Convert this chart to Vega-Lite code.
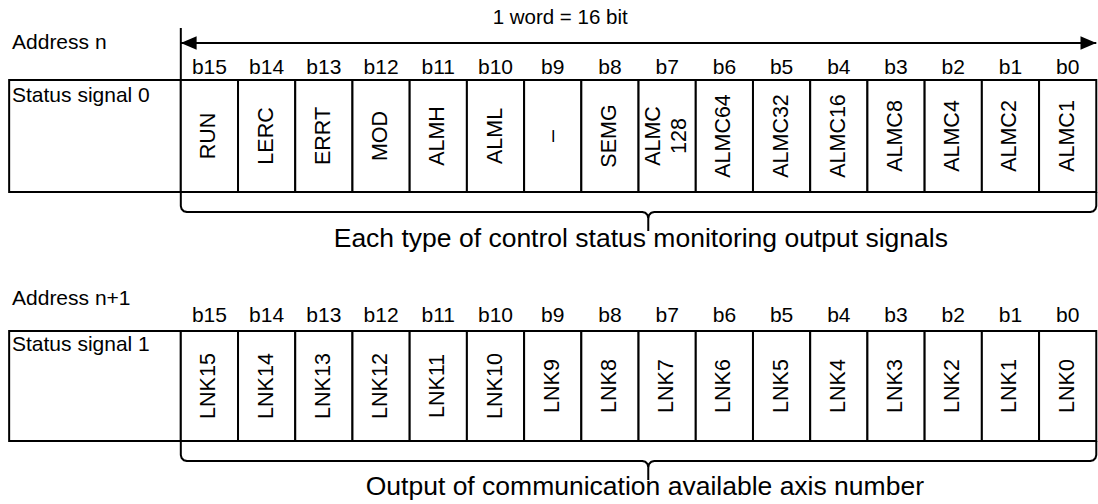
{
  "$schema": "https://vega.github.io/schema/vega-lite/v6.json",
  "width": 1098,
  "height": 504,
  "autosize": {"type": "none"},
  "padding": 0,
  "background": "white",
  "config": {"view": {"stroke": null}, "text": {"font": "Liberation Sans", "color": "black"}},
  "datasets": {
    "cells": [
      {"x1": -3, "x2": 0, "y1": 80, "y2": 192}, {"x1": 0, "x2": 1, "y1": 80, "y2": 192}, {"x1": 1, "x2": 2, "y1": 80, "y2": 192}, {"x1": 2, "x2": 3, "y1": 80, "y2": 192}, {"x1": 3, "x2": 4, "y1": 80, "y2": 192}, {"x1": 4, "x2": 5, "y1": 80, "y2": 192}, {"x1": 5, "x2": 6, "y1": 80, "y2": 192}, {"x1": 6, "x2": 7, "y1": 80, "y2": 192}, {"x1": 7, "x2": 8, "y1": 80, "y2": 192}, {"x1": 8, "x2": 9, "y1": 80, "y2": 192}, {"x1": 9, "x2": 10, "y1": 80, "y2": 192}, {"x1": 10, "x2": 11, "y1": 80, "y2": 192}, {"x1": 11, "x2": 12, "y1": 80, "y2": 192}, {"x1": 12, "x2": 13, "y1": 80, "y2": 192}, {"x1": 13, "x2": 14, "y1": 80, "y2": 192}, {"x1": 14, "x2": 15, "y1": 80, "y2": 192}, {"x1": 15, "x2": 16, "y1": 80, "y2": 192},
      {"x1": -3, "x2": 0, "y1": 331, "y2": 441}, {"x1": 0, "x2": 1, "y1": 331, "y2": 441}, {"x1": 1, "x2": 2, "y1": 331, "y2": 441}, {"x1": 2, "x2": 3, "y1": 331, "y2": 441}, {"x1": 3, "x2": 4, "y1": 331, "y2": 441}, {"x1": 4, "x2": 5, "y1": 331, "y2": 441}, {"x1": 5, "x2": 6, "y1": 331, "y2": 441}, {"x1": 6, "x2": 7, "y1": 331, "y2": 441}, {"x1": 7, "x2": 8, "y1": 331, "y2": 441}, {"x1": 8, "x2": 9, "y1": 331, "y2": 441}, {"x1": 9, "x2": 10, "y1": 331, "y2": 441}, {"x1": 10, "x2": 11, "y1": 331, "y2": 441}, {"x1": 11, "x2": 12, "y1": 331, "y2": 441}, {"x1": 12, "x2": 13, "y1": 331, "y2": 441}, {"x1": 13, "x2": 14, "y1": 331, "y2": 441}, {"x1": 14, "x2": 15, "y1": 331, "y2": 441}, {"x1": 15, "x2": 16, "y1": 331, "y2": 441}
    ],
    "rules": [
      {"x1": 0, "x2": 16, "y1": 43, "y2": 43},
      {"x1": 0, "x2": 0, "y1": 28, "y2": 80}
    ],
    "brace": [
      {"piece": "1L", "o": 1, "x": 0, "y": 192}, {"piece": "1L", "o": 2, "x": 0, "y": 206}, {"piece": "1L", "o": 3, "x": 0.014, "y": 209}, {"piece": "1L", "o": 4, "x": 0.0525, "y": 211.2}, {"piece": "1L", "o": 5, "x": 0.105, "y": 212}, {"piece": "1L", "o": 6, "x": 8.065, "y": 212}, {"piece": "1L", "o": 7, "x": 8.1175, "y": 212.8}, {"piece": "1L", "o": 8, "x": 8.156, "y": 215}, {"piece": "1L", "o": 9, "x": 8.17, "y": 218}, {"piece": "1L", "o": 10, "x": 8.17, "y": 231},
      {"piece": "1R", "o": 1, "x": 8.17, "y": 218}, {"piece": "1R", "o": 2, "x": 8.184, "y": 215}, {"piece": "1R", "o": 3, "x": 8.2225, "y": 212.8}, {"piece": "1R", "o": 4, "x": 8.275, "y": 212}, {"piece": "1R", "o": 5, "x": 15.895, "y": 212}, {"piece": "1R", "o": 6, "x": 15.9475, "y": 211.2}, {"piece": "1R", "o": 7, "x": 15.986, "y": 209}, {"piece": "1R", "o": 8, "x": 16, "y": 206}, {"piece": "1R", "o": 9, "x": 16, "y": 192},
      {"piece": "2L", "o": 1, "x": 0, "y": 441}, {"piece": "2L", "o": 2, "x": 0, "y": 455}, {"piece": "2L", "o": 3, "x": 0.014, "y": 458}, {"piece": "2L", "o": 4, "x": 0.0525, "y": 460.2}, {"piece": "2L", "o": 5, "x": 0.105, "y": 461}, {"piece": "2L", "o": 6, "x": 8.065, "y": 461}, {"piece": "2L", "o": 7, "x": 8.1175, "y": 461.8}, {"piece": "2L", "o": 8, "x": 8.156, "y": 464}, {"piece": "2L", "o": 9, "x": 8.17, "y": 467}, {"piece": "2L", "o": 10, "x": 8.17, "y": 480},
      {"piece": "2R", "o": 1, "x": 8.17, "y": 467}, {"piece": "2R", "o": 2, "x": 8.184, "y": 464}, {"piece": "2R", "o": 3, "x": 8.2225, "y": 461.8}, {"piece": "2R", "o": 4, "x": 8.275, "y": 461}, {"piece": "2R", "o": 5, "x": 15.895, "y": 461}, {"piece": "2R", "o": 6, "x": 15.9475, "y": 460.2}, {"piece": "2R", "o": 7, "x": 15.986, "y": 458}, {"piece": "2R", "o": 8, "x": 16, "y": 455}, {"piece": "2R", "o": 9, "x": 16, "y": 441}
    ],
    "bits": [
      {"t": "b15", "x": 0.5, "y": 68}, {"t": "b14", "x": 1.5, "y": 68}, {"t": "b13", "x": 2.5, "y": 68}, {"t": "b12", "x": 3.5, "y": 68}, {"t": "b11", "x": 4.5, "y": 68}, {"t": "b10", "x": 5.5, "y": 68}, {"t": "b9", "x": 6.5, "y": 68}, {"t": "b8", "x": 7.5, "y": 68}, {"t": "b7", "x": 8.5, "y": 68}, {"t": "b6", "x": 9.5, "y": 68}, {"t": "b5", "x": 10.5, "y": 68}, {"t": "b4", "x": 11.5, "y": 68}, {"t": "b3", "x": 12.5, "y": 68}, {"t": "b2", "x": 13.5, "y": 68}, {"t": "b1", "x": 14.5, "y": 68}, {"t": "b0", "x": 15.5, "y": 68},
      {"t": "b15", "x": 0.5, "y": 316}, {"t": "b14", "x": 1.5, "y": 316}, {"t": "b13", "x": 2.5, "y": 316}, {"t": "b12", "x": 3.5, "y": 316}, {"t": "b11", "x": 4.5, "y": 316}, {"t": "b10", "x": 5.5, "y": 316}, {"t": "b9", "x": 6.5, "y": 316}, {"t": "b8", "x": 7.5, "y": 316}, {"t": "b7", "x": 8.5, "y": 316}, {"t": "b6", "x": 9.5, "y": 316}, {"t": "b5", "x": 10.5, "y": 316}, {"t": "b4", "x": 11.5, "y": 316}, {"t": "b3", "x": 12.5, "y": 316}, {"t": "b2", "x": 13.5, "y": 316}, {"t": "b1", "x": 14.5, "y": 316}, {"t": "b0", "x": 15.5, "y": 316}
    ],
    "signals": [
      {"t": "RUN", "x": 0.5, "y": 136}, {"t": "LERC", "x": 1.5, "y": 136}, {"t": "ERRT", "x": 2.5, "y": 136}, {"t": "MOD", "x": 3.5, "y": 136}, {"t": "ALMH", "x": 4.5, "y": 136}, {"t": "ALML", "x": 5.5, "y": 136}, {"t": "–", "x": 6.5, "y": 136}, {"t": "SEMG", "x": 7.5, "y": 136}, {"t": "ALMC\n128", "x": 8.27, "y": 136}, {"t": "ALMC64", "x": 9.5, "y": 136}, {"t": "ALMC32", "x": 10.5, "y": 136}, {"t": "ALMC16", "x": 11.5, "y": 136}, {"t": "ALMC8", "x": 12.5, "y": 136}, {"t": "ALMC4", "x": 13.5, "y": 136}, {"t": "ALMC2", "x": 14.5, "y": 136}, {"t": "ALMC1", "x": 15.5, "y": 136},
      {"t": "LNK15", "x": 0.5, "y": 386}, {"t": "LNK14", "x": 1.5, "y": 386}, {"t": "LNK13", "x": 2.5, "y": 386}, {"t": "LNK12", "x": 3.5, "y": 386}, {"t": "LNK11", "x": 4.5, "y": 386}, {"t": "LNK10", "x": 5.5, "y": 386}, {"t": "LNK9", "x": 6.5, "y": 386}, {"t": "LNK8", "x": 7.5, "y": 386}, {"t": "LNK7", "x": 8.5, "y": 386}, {"t": "LNK6", "x": 9.5, "y": 386}, {"t": "LNK5", "x": 10.5, "y": 386}, {"t": "LNK4", "x": 11.5, "y": 386}, {"t": "LNK3", "x": 12.5, "y": 386}, {"t": "LNK2", "x": 13.5, "y": 386}, {"t": "LNK1", "x": 14.5, "y": 386}, {"t": "LNK0", "x": 15.5, "y": 386}
    ],
    "leftLabels": [
      {"t": "Address n", "x": -2.95, "y": 43},
      {"t": "Status signal 0", "x": -2.95, "y": 96},
      {"t": "Address n+1", "x": -2.95, "y": 299},
      {"t": "Status signal 1", "x": -2.95, "y": 345}
    ],
    "title": [{"t": "1 word = 16 bit", "x": 6.63, "y": 17.5}],
    "captions": [
      {"t": "Each type of control status monitoring output signals", "x": 8.04, "y": 239},
      {"t": "Output of communication available axis number", "x": 8.11, "y": 487}
    ],
    "arrowL": [{"x": 0, "y": 43}],
    "arrowR": [{"x": 16, "y": 43}]
  },
  "layer": [
    {
      "data": {"name": "cells"},
      "mark": {"type": "rect", "fill": "white", "stroke": "black", "strokeWidth": 2},
      "encoding": {
        "x": {"field": "x1", "type": "quantitative", "scale": {"domain": [-3.16, 16.03], "nice": false, "zero": false}, "axis": null},
        "x2": {"field": "x2"},
        "y": {"field": "y1", "type": "quantitative", "scale": {"domain": [0, 504], "reverse": true, "nice": false, "zero": false}, "axis": null},
        "y2": {"field": "y2"}
      }
    },
    {
      "data": {"name": "rules"},
      "mark": {"type": "rule", "color": "black", "strokeWidth": 2},
      "encoding": {
        "x": {"field": "x1", "type": "quantitative", "axis": null},
        "x2": {"field": "x2"},
        "y": {"field": "y1", "type": "quantitative", "axis": null},
        "y2": {"field": "y2"}
      }
    },
    {
      "data": {"name": "brace"},
      "mark": {"type": "line", "color": "black", "strokeWidth": 2, "strokeJoin": "round"},
      "encoding": {
        "x": {"field": "x", "type": "quantitative", "axis": null},
        "y": {"field": "y", "type": "quantitative", "axis": null},
        "detail": {"field": "piece", "type": "nominal"},
        "order": {"field": "o", "type": "quantitative"}
      }
    },
    {
      "data": {"name": "arrowL"},
      "mark": {"type": "point", "shape": "M0,0L1,-0.42L1,0.42Z", "size": 1000, "filled": true, "color": "black", "opacity": 1, "strokeWidth": 0},
      "encoding": {
        "x": {"field": "x", "type": "quantitative", "axis": null},
        "y": {"field": "y", "type": "quantitative", "axis": null}
      }
    },
    {
      "data": {"name": "arrowR"},
      "mark": {"type": "point", "shape": "M0,0L-1,-0.42L-1,0.42Z", "size": 1000, "filled": true, "color": "black", "opacity": 1, "strokeWidth": 0},
      "encoding": {
        "x": {"field": "x", "type": "quantitative", "axis": null},
        "y": {"field": "y", "type": "quantitative", "axis": null}
      }
    },
    {
      "data": {"name": "bits"},
      "mark": {"type": "text", "fontSize": 21, "align": "center", "baseline": "middle"},
      "encoding": {
        "x": {"field": "x", "type": "quantitative", "axis": null},
        "y": {"field": "y", "type": "quantitative", "axis": null},
        "text": {"field": "t"}
      }
    },
    {
      "data": {"name": "signals"},
      "mark": {"type": "text", "fontSize": 21.5, "align": "center", "baseline": "middle", "angle": 270, "lineBreak": "\n", "lineHeight": 26},
      "encoding": {
        "x": {"field": "x", "type": "quantitative", "axis": null},
        "y": {"field": "y", "type": "quantitative", "axis": null},
        "text": {"field": "t"}
      }
    },
    {
      "data": {"name": "leftLabels"},
      "mark": {"type": "text", "fontSize": 21, "align": "left", "baseline": "middle"},
      "encoding": {
        "x": {"field": "x", "type": "quantitative", "axis": null},
        "y": {"field": "y", "type": "quantitative", "axis": null},
        "text": {"field": "t"}
      }
    },
    {
      "data": {"name": "title"},
      "mark": {"type": "text", "fontSize": 20.5, "align": "center", "baseline": "middle"},
      "encoding": {
        "x": {"field": "x", "type": "quantitative", "axis": null},
        "y": {"field": "y", "type": "quantitative", "axis": null},
        "text": {"field": "t"}
      }
    },
    {
      "data": {"name": "captions"},
      "mark": {"type": "text", "fontSize": 26.5, "align": "center", "baseline": "middle"},
      "encoding": {
        "x": {"field": "x", "type": "quantitative", "axis": null},
        "y": {"field": "y", "type": "quantitative", "axis": null},
        "text": {"field": "t"}
      }
    }
  ]
}
